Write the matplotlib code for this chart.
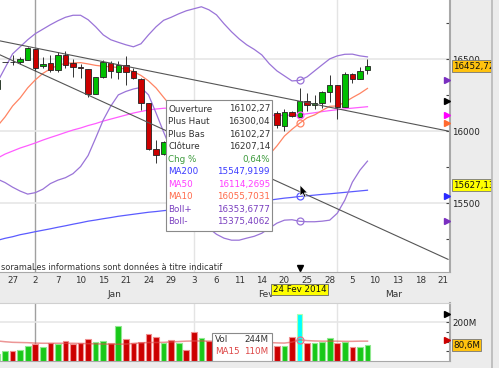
import numpy as np
import matplotlib.pyplot as plt
import matplotlib.transforms as mtransforms
from matplotlib.patches import Rectangle, Polygon
from matplotlib.lines import Line2D

W, H = 499, 368

# trading-day index, 0 = 27 Dec 2013
days = np.arange(-2, 48)

opens = [16296, 16480, 16480, 16479, 16494, 16572, 16456, 16474, 16429, 16527,
         16472, 16449, 16434, 16260, 16376, 16475, 16414, 16459, 16417, 16364,
         16197, 15879, 15840, 15928, 15740, 15848, 15698, 15372, 15443, 15443,
         15630, 15794, 15804, 15994, 15960, 16028, 16153, 16128, 16040, 16134,
         16102.27, 16208, 16181, 16199, 16273, 16321, 16169, 16395, 16361, 16423]
highs = [16360, 16480, 16529, 16514, 16588, 16573, 16518, 16532, 16551, 16556,
         16500, 16470, 16436, 16377, 16492, 16486, 16488, 16520, 16440, 16373,
         16197, 15942, 15934, 15928, 15958, 15848, 15708, 15478, 15478, 15632,
         15798, 15803, 16005, 16039, 16032, 16175, 16168, 16140, 16158, 16140,
         16300.04, 16268, 16255, 16282, 16394, 16321, 16413, 16406, 16447, 16505]
lows = [16285, 16480, 16461, 16470, 16494, 16419, 16438, 16409, 16412, 16440,
        16378, 16370, 16240, 16257, 16373, 16373, 16366, 16319, 16360, 16146,
        15873, 15782, 15838, 15703, 15740, 15632, 15356, 15341, 15340, 15443,
        15630, 15733, 15801, 15944, 15830, 16003, 16075, 16022, 16002, 16098,
        16102.27, 16140, 16157, 16165, 16204, 16085, 16168, 16334, 16360, 16400]
closes = [16358, 16480, 16478, 16504, 16577, 16441, 16470, 16425, 16531, 16463,
          16445, 16437, 16258, 16374, 16482, 16417, 16459, 16414, 16373, 16197,
          15879, 15838, 15929, 15739, 15849, 15699, 15373, 15445, 15440, 15629,
          15794, 15802, 15995, 15964, 16028, 16154, 16130, 16041, 16133, 16103,
          16207.14, 16180, 16198, 16273, 16322, 16168, 16396, 16360, 16422, 16452.72]

# volume in millions
volumes = [36, 51, 51, 56, 78, 86, 73, 94, 86, 103,
           86, 91, 113, 99, 104, 91, 183, 113, 91, 99,
           142, 125, 91, 108, 94, 56, 150, 121, 103, 95,
           100, 80, 95, 85, 90, 100, 95, 78, 78, 125,
           244, 96, 94, 99, 120, 96, 99, 73, 73, 80.6]
vol_ma15 = [104, 100, 97, 96, 95, 93, 92, 92, 92, 92,
            92, 91, 90, 89, 88, 87, 87, 88, 91, 94,
            96, 96, 97, 99, 101, 103, 104, 104, 103, 102,
            101, 100, 99, 98, 97, 97, 96, 94, 93, 98,
            110, 106, 104, 103, 103, 103, 102, 102, 103, 103]

ma10 = [16037, 16100, 16176, 16232, 16302, 16357, 16402, 16434, 16458, 16472,
        16475, 16477, 16468, 16458, 16452, 16448, 16443, 16430, 16415, 16388,
        16350, 16301, 16236, 16173, 16109, 16038, 15929, 15832, 15739, 15682,
        15674, 15670, 15677, 15699, 15717, 15762, 15838, 15898, 15967, 16014,
        16055.70, 16094, 16114, 16145, 16174, 16176, 16202, 16234, 16263, 16298]
ma50 = [15814, 15842, 15863, 15884, 15901, 15919, 15939, 15957, 15974, 15992,
        16009, 16023, 16040, 16054, 16071, 16085, 16099, 16113, 16127, 16138,
        16148, 16155, 16160, 16162, 16162, 16159, 16152, 16145, 16138, 16131,
        16127, 16124, 16120, 16117, 16113, 16113, 16113, 16110, 16111, 16113,
        16114.27, 16122, 16129, 16137, 16144, 16150, 16156, 16161, 16166, 16171]
ma200 = [15243, 15257, 15268, 15282, 15292, 15303, 15313, 15323, 15334, 15344,
         15355, 15365, 15376, 15384, 15393, 15401, 15410, 15417, 15424, 15431,
         15438, 15443, 15449, 15454, 15459, 15464, 15470, 15475, 15480, 15485,
         15491, 15495, 15501, 15506, 15511, 15516, 15522, 15529, 15536, 15541,
         15547.92, 15552, 15557, 15562, 15566, 15571, 15576, 15581, 15586, 15591]
boll_up = [16343, 16441, 16538, 16587, 16636, 16678, 16709, 16740, 16768, 16792,
           16806, 16806, 16775, 16726, 16670, 16636, 16618, 16601, 16587, 16608,
           16670, 16726, 16771, 16792, 16816, 16837, 16851, 16865, 16844, 16809,
           16747, 16691, 16642, 16601, 16569, 16531, 16469, 16420, 16385, 16350,
           16353.68, 16378, 16420, 16462, 16503, 16524, 16535, 16536, 16524, 16517]
boll_dn = [15668, 15644, 15612, 15585, 15564, 15574, 15598, 15637, 15661, 15678,
           15706, 15755, 15832, 15953, 16078, 16175, 16253, 16277, 16294, 16305,
           16253, 16127, 15995, 15870, 15766, 15661, 15522, 15418, 15327, 15285,
           15258, 15244, 15244, 15258, 15271, 15292, 15327, 15362, 15383, 15386,
           15375.41, 15372, 15372, 15376, 15383, 15431, 15522, 15647, 15730, 15793]

tick_days = np.arange(0, 58, 3)
tick_labels = ["27", "2", "7", "10", "15", "21", "24", "29", "3", "6",
               "11", "14", "20", "25", "28", "5", "10", "13", "18", "21"]
month_names = ["Jan", "Fev", "Mar"]
month_starts = [3, 24, 43]

# user-drawn trend lines (day, price)
trend_days = [-1.67, 57.67]
trend_a = [16628, 16002]
trend_b = [16531, 15111]

hover = 38  # 24 Fev 2014
hover_date = "24 Fev 2014"
cursor_day, cursor_price = 38.07, 15627.13
tooltip = [("Ouverture", "16102,27", "#333333"),
           ("Plus Haut", "16300,04", "#333333"),
           ("Plus Bas", "16102,27", "#333333"),
           ("Clôture", "16207,14", "#333333"),
           ("Chg %", "0,64%", "#3c9a3c"),
           ("MA200", "15547,9199", "#3a3aff"),
           ("MA50", "16114,2695", "#ff3cff"),
           ("MA10", "16055,7031", "#ff6a4a"),
           ("Boll+", "16353,6777", "#7a3fc0"),
           ("Boll-", "15375,4062", "#7a3fc0")]

c_ma200, c_ma50, c_ma10, c_boll = "#5b5bff", "#ff5cff", "#ff8463", "#9a74d8"

fig = plt.figure(figsize=(W / 100, H / 100), dpi=100, facecolor="#ececec")


def fy(py):
    return 1 - py / H


ax = fig.add_axes([0, fy(272), 450 / W, 272 / H])
axv = fig.add_axes([0, fy(361), 450 / W, (361 - 303) / H], sharex=ax)
xmin, xmax = -1.67, 57.93
ax.set_xlim(xmin, xmax)
ax.set_ylim(15023, 16912)
axv.set_ylim(0, 301)

o, hi, lo, c = map(np.array, (opens, highs, lows, closes))
h = hover - days[0]
up = c >= o

# ---- price panel
for a in (ax, axv):
    a.set_facecolor("white")
    a.spines["left"].set_visible(False)
    a.spines["right"].set_color("#a8a8a8")
    a.spines["right"].set_linewidth(1.5)
    a.spines["bottom"].set_color("#a8a8a8")
    a.yaxis.tick_right()
    for m, col in zip(month_starts, ["#a0a0a0", "#e4e4e4", "#e4e4e4"]):
        a.axvline(m, color=col, lw=1, zorder=0.5)
ax.spines["top"].set_visible(False)
axv.spines["top"].set_color("#d0d0d0")

for lvl in (15500, 16000, 16500):
    ax.axhline(lvl, color="#e6e6e6", lw=1.2, zorder=0.5)
ax.set_yticks([15500, 16000, 16500], ["15500", "16000", "16500"])
ax.set_yticks([15250, 15750, 16250, 16750], minor=True)
ax.tick_params(axis="y", which="both", direction="in", length=3, width=0.8,
               color="#444", labelsize=6.3, labelcolor="#222", pad=1.5)
ax.set_xticks(tick_days, tick_labels)
ax.tick_params(axis="x", length=0, labelsize=6.3, labelcolor="#333", pad=3)

ax.plot(days, ma200, color=c_ma200, lw=0.9, zorder=2)
ax.plot(days, ma50, color=c_ma50, lw=0.9, zorder=2)
ax.plot(days, ma10, color=c_ma10, lw=0.9, zorder=2)
ax.plot(days, boll_up, color=c_boll, lw=0.9, zorder=2)
ax.plot(days, boll_dn, color=c_boll, lw=0.9, zorder=2)

ax.vlines(days, lo, hi, color="#333333", lw=0.7, zorder=3)
ax.bar(days, c - o, bottom=o, width=0.72, color=np.where(up, "#00c000", "#cc0000"),
       edgecolor="#222222", linewidth=0.6, zorder=4)

ax.plot(trend_days, trend_a, color="#555555", lw=0.8, zorder=5)
ax.plot(trend_days, trend_b, color="#555555", lw=0.8, zorder=5)

for series, col in [(boll_up, c_boll), (ma50, c_ma50), (ma10, c_ma10),
                    (ma200, c_ma200), (boll_dn, c_boll)]:
    ax.plot(hover, series[h], "o", mfc="none", mec=col, ms=5, mew=0.9, zorder=6)

for val, col in [(boll_up[h], "#7a2fc0"), (closes[h], "black"), (ma50[h], "#ff00ff"),
                 (ma10[h], "#ff6a30"), (ma200[h], "#2a2aff"), (boll_dn[h], "#7a2fc0")]:
    ax.plot(57.5, val, marker=">", color=col, ms=4.5, clip_on=False, zorder=6)

xt = ax.get_xaxis_transform()
ax.plot(hover, 0.016, marker="v", color="black", ms=5, transform=xt, zorder=6)
ends = month_starts[1:] + [xmax]
for name, s, e in zip(month_names, month_starts, ends):
    ax.text((s + e) / 2, -0.081, name, transform=xt, ha="center", va="center",
            fontsize=6.5, color="#333")
ax.text(hover, -0.064, hover_date, transform=xt, ha="center", va="center",
        fontsize=6.3, color="#111", zorder=10, clip_on=False,
        bbox=dict(boxstyle="square,pad=0.15", fc="#ffff00", ec="#666", lw=0.6))

ax.text(1 / 450, 5 / 272, "soramaLes informations sont données à titre indicatif",
        transform=ax.transAxes, fontsize=5.95, color="#333", va="center", ha="left")

# tooltip
ax.add_patch(Rectangle((166 / 450, 41 / 272), 106 / 450, 131 / 272,
                       transform=ax.transAxes, fc="white", ec="#8a8a8a", lw=0.8, zorder=10))
for i, (lab, val, col) in enumerate(tooltip):
    yy = (272 - (109 + 12.55 * i)) / 272
    ax.text(168.5 / 450, yy, lab, transform=ax.transAxes, fontsize=6.3, color=col,
            va="center", ha="left", zorder=11)
    ax.text(270 / 450, yy, val, transform=ax.transAxes, fontsize=6.3, color=col,
            va="center", ha="right", zorder=11)

# ---- volume panel
axv.axhline(200, color="#e6e6e6", lw=1.2, zorder=0.5)
vcol = np.where(up, "#18c818", "#cc0000").astype(object)
vedge = np.where(up, "#90e890", "#f09090").astype(object)
vcol[h], vedge[h] = "#00ffff", "#b0ffb0"
axv.bar(days, volumes, width=0.75, color=list(vcol), edgecolor=list(vedge), lw=0.8, zorder=3)
axv.plot(days, vol_ma15, color="#e05050", alpha=0.6, lw=1.1, zorder=4)
axv.plot(hover, vol_ma15[h], "o", mfc="none", mec="#e07090", ms=5, mew=0.9, zorder=5)
axv.plot(57.5, volumes[h], marker=">", color="black", ms=4.5, clip_on=False, zorder=6)
axv.plot(57.5, vol_ma15[h], marker=">", color="#cc0000", ms=4.5, clip_on=False, zorder=6)
axv.set_yticks([200], ["200M"])
axv.set_yticks([50, 100, 150, 250], minor=True)
axv.tick_params(axis="y", which="both", direction="in", length=3, width=0.8,
                color="#444", labelsize=6.3, labelcolor="#222", pad=1.5)
axv.tick_params(axis="x", which="both", length=0, labelbottom=False)

axv.add_patch(Rectangle((212 / 450, 0), 60 / 450, 28 / 58, transform=axv.transAxes,
                        fc="white", ec="#8a8a8a", lw=0.8, zorder=10))
for yy, lab, val, col in [(340, "Vol", "244M", "#333333"), (352, "MA15", "110M", "#dd4444")]:
    ty = (361 - yy) / 58
    axv.text(215 / 450, ty, lab, transform=axv.transAxes, fontsize=6.3, color=col,
             va="center", ha="left", zorder=11)
    axv.text(268 / 450, ty, val, transform=axv.transAxes, fontsize=6.3, color=col,
             va="center", ha="right", zorder=11)


# value boxes on the right scale
def value_box(a, value, text, face, x1, ypp):
    trans = mtransforms.blended_transform_factory(fig.transFigure, a.transData)
    hh = 6 * ypp
    rect = Rectangle((452 / W, value - hh), (x1 - 452) / W, 2 * hh, transform=trans,
                     fc=face, ec="#777777", lw=0.6, clip_on=False, zorder=8)
    a.add_patch(rect)
    t = a.text(453.5 / W, value, text, transform=trans, fontsize=6.3, color="#111",
               va="center", ha="left", zorder=9, clip_on=True)
    t.set_clip_path(rect)


value_box(ax, closes[-1], "16452,72", "#ffc20e", 491, 1889 / 272)
value_box(ax, cursor_price, "15627,13", "#ffff00", 491, 1889 / 272)
value_box(axv, volumes[-1], "80,6M", "#ffc20e", 481, 301 / 58)

fig.add_artist(Line2D([491.5 / W] * 2, [0, 1], transform=fig.transFigure,
                      color="#b8b8b8", lw=1.2))

# mouse pointer
px, py = ax.transData.transform((cursor_day, cursor_price))
arrow = np.array([(0, 0), (0, 11), (2.6, 8.6), (4.4, 12.4), (6, 11.7), (4.3, 7.9), (7.6, 7.9)])
fig.add_artist(Polygon(np.column_stack([px + arrow[:, 0], py - arrow[:, 1]]),
                       closed=True, fc="black", ec="white", lw=0.5,
                       transform=mtransforms.IdentityTransform(), zorder=20))

fig.savefig("out.png", dpi=100, facecolor=fig.get_facecolor())
